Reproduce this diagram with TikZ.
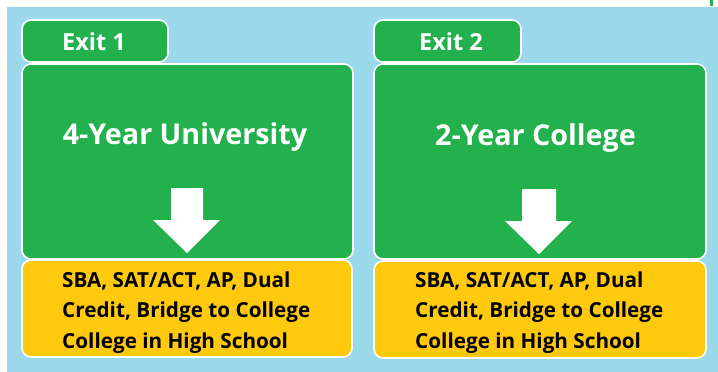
\documentclass[tikz,border=0pt]{standalone}
\usepackage{fontspec}
\setmainfont{Open Sans}
\definecolor{bgblue}{HTML}{99D9EA}
\definecolor{exgreen}{HTML}{22B14C}
\definecolor{exyellow}{HTML}{FFC90E}
\begin{document}
\begin{tikzpicture}[x=1pt,y=-1pt,
  box/.style={draw=white,line width=1.6pt,rounded corners=9pt,inner sep=0pt},
  tab/.style={box,fill=exgreen},
  mainbox/.style={box,fill=exgreen},
  infobox/.style={box,fill=exyellow},
  tabtext/.style={font=\bfseries\fontsize{23.5}{28}\selectfont,text=white,anchor=base,inner sep=0pt},
  titletext/.style={font=\bfseries\fontsize{28.7}{34}\selectfont,text=white,anchor=base,inner sep=0pt},
  infotext/.style={font=\bfseries\fontsize{20.7}{30.5}\selectfont,align=left,anchor=base west,inner sep=0pt},
  downarrow/.style={fill=white,draw=none}]
\useasboundingbox (0,0) rectangle (718,372);
\fill[white] (0,0) rectangle (718,372);
\fill[bgblue] (7,7) rectangle (718,372);
\fill[exgreen] (710,0) rectangle (713,6);
% column 1
\draw[tab] (22,20) rectangle (168,62);
\node[tabtext] (t1) at (94,50) {Exit 1};
\draw[mainbox] (22,64) rectangle (353,259);
\node[titletext] (m1) at (185,144) {4-Year University};
\fill[downarrow] (171,188) -- (203,188) -- (203,220) -- (220,220) -- (187,253) -- (153,220) -- (171,220) -- cycle;
\draw[infobox] (22,260) rectangle (352,357);
\node[infotext] (y1) at (62,348)
  {SBA, SAT/ACT, AP, Dual\\Credit, Bridge to College\\College in High School};
% column 2
\draw[tab] (374,20) rectangle (521,62);
\node[tabtext] (t2) at (451,50) {Exit 2};
\draw[mainbox] (374,64) rectangle (706,259);
\node[titletext] (m2) at (535.5,145) {2-Year College};
\fill[downarrow] (522,189) -- (556,189) -- (556,221) -- (572,221) -- (539,254) -- (505,221) -- (522,221) -- cycle;
\draw[infobox] (374,261) rectangle (706,358);
\node[infotext] (y2) at (415,348)
  {SBA, SAT/ACT, AP, Dual\\Credit, Bridge to College\\College in High School};
\end{tikzpicture}
\end{document}
